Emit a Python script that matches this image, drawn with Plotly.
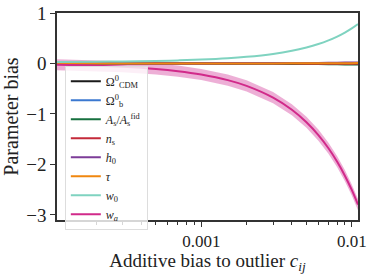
import plotly.graph_objects as go

c_vals = [1.1e-4, 2e-4, 3e-4, 5e-4, 7e-4, 1e-3, 1.5e-3, 2e-3, 3e-3, 4e-3,
          5e-3, 6e-3, 7e-3, 8e-3, 9e-3, 1e-2, 1.1e-2]

omega_cdm = [0.0, 0.0, 0.0, 0.0, 0.0, 0.0, 0.0, 0.0, 0.0, 0.0, 0.0, 0.0, 0.0, 0.0, 0.0, 0.0, 0.0]
omega_b = [0.0, 0.0, 0.0, 0.0, 0.0, 0.0, 0.0, 0.0, 0.0, 0.0, 0.0, 0.0, 0.0, 0.0, 0.0, 0.0, 0.0]
a_s = [0.0, 0.0, 0.0, 0.0, -0.001, -0.002, -0.003, -0.004, -0.006, -0.008,
       -0.010, -0.012, -0.014, -0.016, -0.018, -0.020, -0.022]
n_s = [0.0, 0.0, 0.0, 0.0, 0.0, 0.0, -0.001, -0.001, -0.002, -0.002,
       -0.003, -0.003, -0.004, -0.004, -0.005, -0.005, -0.006]
h_0 = [0.0, 0.0, 0.0, 0.001, 0.001, 0.002, 0.003, 0.004, 0.006, 0.008,
       0.010, 0.012, 0.014, 0.016, 0.018, 0.020, 0.022]
tau = [0.0, 0.0, 0.0, 0.0, 0.0, 0.001, 0.001, 0.002, 0.002, 0.003,
       0.004, 0.004, 0.005, 0.006, 0.006, 0.007, 0.008]
w_0 = [0.031, 0.035, 0.040, 0.050, 0.061, 0.077, 0.104, 0.132, 0.190, 0.252,
       0.318, 0.386, 0.458, 0.534, 0.613, 0.695, 0.781]
w_a = [-0.024, -0.043, -0.065, -0.108, -0.152, -0.219, -0.330, -0.444, -0.677, -0.917,
       -1.164, -1.418, -1.679, -1.947, -2.222, -2.505, -2.795]
w_a_err = [0.11, 0.11, 0.11, 0.11, 0.11, 0.11, 0.11, 0.11, 0.11, 0.11,
           0.11, 0.11, 0.11, 0.11, 0.11, 0.11, 0.11]

names = ["Ω<sup>0</sup><sub>CDM</sub>", "Ω<sup>0</sup><sub>b</sub>",
         "<i>A</i><sub>s</sub>/<i>A</i><sub>s</sub><sup>fid</sup>",
         "<i>n</i><sub>s</sub>", "<i>h</i><sub>0</sub>", "<i>τ</i>",
         "<i>w</i><sub>0</sub>", "<i>w<sub>a</sub></i>"]
series = [omega_cdm, omega_b, a_s, n_s, h_0, tau, w_0, w_a]
colors = ["#1a1a1a", "#3b78d0", "#17703f", "#c42a3a", "#7d3c98", "#f0870f", "#7fd3c0", "#d12a8a"]

x_ticks = [0.001, 0.01]
x_ticktext = ["0.001", "0.01"]
y_ticks = [1, 0, -1, -2, -3]

fig = go.Figure()

upper = [v + e for v, e in zip(w_a, w_a_err)]
lower = [v - e for v, e in zip(w_a, w_a_err)]
fig.add_trace(go.Scatter(x=c_vals, y=upper, mode="lines", line=dict(width=0),
                         showlegend=False, hoverinfo="skip"))
fig.add_trace(go.Scatter(x=c_vals, y=lower, mode="lines", line=dict(width=0),
                         fill="tonexty", fillcolor="rgba(222,110,180,0.55)",
                         showlegend=False, hoverinfo="skip"))

for name, ys, col in zip(names, series, colors):
    fig.add_trace(go.Scatter(x=c_vals, y=ys, mode="lines", name=name,
                             line=dict(color=col, width=2, shape="spline")))

font_family = "Liberation Serif, DejaVu Serif, serif"

fig.update_layout(
    width=374, height=274,
    margin=dict(l=57, r=16, t=13, b=54, autoexpand=False),
    paper_bgcolor="white", plot_bgcolor="white",
    font=dict(family=font_family, size=16, color="#222"),
    showlegend=True,
    legend=dict(x=0.026, y=0.745, xanchor="left", yanchor="top",
                traceorder="normal",
                bgcolor="rgba(255,255,255,0.8)", bordercolor="#dddddd", borderwidth=1,
                font=dict(family=font_family, size=12, color="#222"),
                tracegroupgap=0, itemwidth=30),
)

fig.update_xaxes(
    type="log", range=[-3.9586, -1.9586],
    tickvals=x_ticks, ticktext=x_ticktext,
    ticks="outside", ticklen=5, tickwidth=1.2, tickcolor="#333",
    minor=dict(ticks="outside", ticklen=3, tickwidth=1, tickcolor="#333", dtick="D1", showgrid=False),
    showline=True, linecolor="#333", linewidth=1.5, mirror=True,
    showgrid=False, zeroline=False,
    tickfont=dict(size=17),
    title=dict(text="Additive bias to outlier <i>c<sub>ij</sub></i>", font=dict(size=19), standoff=1),
)
fig.update_yaxes(
    range=[-3.1, 1.0],
    tickvals=y_ticks,
    ticks="outside", ticklen=5, tickwidth=1.2, tickcolor="#333",
    showline=True, linecolor="#333", linewidth=1.5, mirror=True,
    showgrid=False, zeroline=False,
    tickfont=dict(size=19),
    title=dict(text="Parameter bias", font=dict(size=20), standoff=2),
)

fig.write_html("out.html",
               config={"displayModeBar": False},
               post_script="document.body.style.margin='0';document.body.style.overflow='hidden';")
